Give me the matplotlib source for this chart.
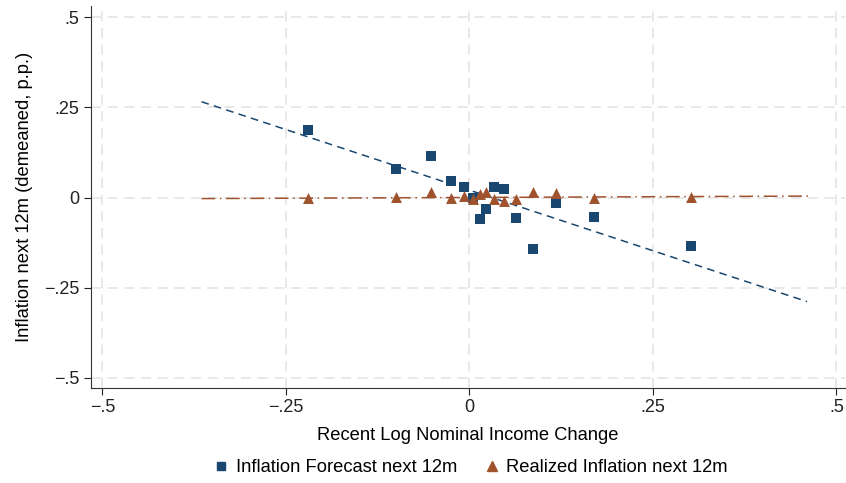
import matplotlib.pyplot as plt
import numpy as np
from matplotlib.lines import Line2D

# binned scatter: log nominal income change bins
income_change = [-0.2195, -0.0997, -0.0517, -0.0249, -0.0078, 0.0045, 0.0146, 0.0227,
                 0.0340, 0.0476, 0.0639, 0.0871, 0.1180, 0.1701, 0.3016]
forecast_infl = [0.1875, 0.0792, 0.1161, 0.0467, 0.0278, -0.0022, -0.0597, -0.0319,
                 0.0300, 0.0236, -0.0564, -0.1431, -0.0144, -0.0533, -0.1347]
realized_infl = [-0.0006, 0.0022, 0.0144, -0.0022, 0.0042, -0.0042, 0.0089, 0.0144,
                 -0.0042, -0.0089, -0.0042, 0.0161, 0.0133, -0.0022, 0.0022]

# fitted lines (endpoints)
forecast_fit_x = [-0.365, 0.460]
forecast_fit_y = [0.266, -0.289]
realized_fit_x = [-0.365, 0.467]
realized_fit_y = [-0.003, 0.004]

ticks = [-0.5, -0.25, 0, 0.25, 0.5]
tick_labels = ["\u2212.5", "\u2212.25", "0", ".25", ".5"]

navy = "#1a476f"
sienna = "#a0522d"

plt.rcParams['font.family'] = ['Liberation Sans', 'DejaVu Sans']

fig = plt.figure(figsize=(8.46, 4.83), dpi=100)
ax = fig.add_axes([0.1072, 0.1967, 0.8918, 0.791])

ax.plot(forecast_fit_x, forecast_fit_y, color=navy, lw=1.1, ls=(0, (5, 3.5)), zorder=3)
ax.plot(realized_fit_x, realized_fit_y, color=sienna, lw=1.1, ls=(0, (9, 3, 1, 3)), zorder=3)
ax.scatter(income_change, forecast_infl, marker='s', s=48, color=navy, zorder=4, linewidths=0)
ax.scatter(income_change, realized_infl, marker='^', s=62, color=sienna, zorder=5, linewidths=0)

ax.set_xlim(-0.516, 0.512)
ax.set_ylim(-0.529, 0.532)
ax.set_xticks(ticks)
ax.set_xticklabels(tick_labels)
ax.set_yticks(ticks)
ax.set_yticklabels(tick_labels)
ax.tick_params(labelsize=13, length=5, width=0.8, colors='#222222', pad=3)
ax.grid(True, color='#e4e4e4', ls=(0, (6, 4)), lw=1.2)
ax.set_axisbelow(True)
for side in ['top', 'right']:
    ax.spines[side].set_visible(False)
for side in ['left', 'bottom']:
    ax.spines[side].set_linewidth(0.8)
    ax.spines[side].set_color('#333333')

ax.set_xlabel("Recent Log Nominal Income Change", fontsize=13.2, labelpad=8)
ax.set_ylabel("Inflation next 12m (demeaned, p.p.)", fontsize=13.2, labelpad=8)

handles = [Line2D([], [], marker='s', color=navy, ls='none', markersize=6),
           Line2D([], [], marker='^', color=sienna, ls='none', markersize=7)]
fig.legend(handles, ["Inflation Forecast next 12m", "Realized Inflation next 12m"],
           loc='center', bbox_to_anchor=(469 / 846, 1 - 468 / 483), ncol=2, frameon=False,
           fontsize=13.2, handletextpad=0.2, columnspacing=1.3, handlelength=1.2)

fig.savefig("out.png", dpi=100)
